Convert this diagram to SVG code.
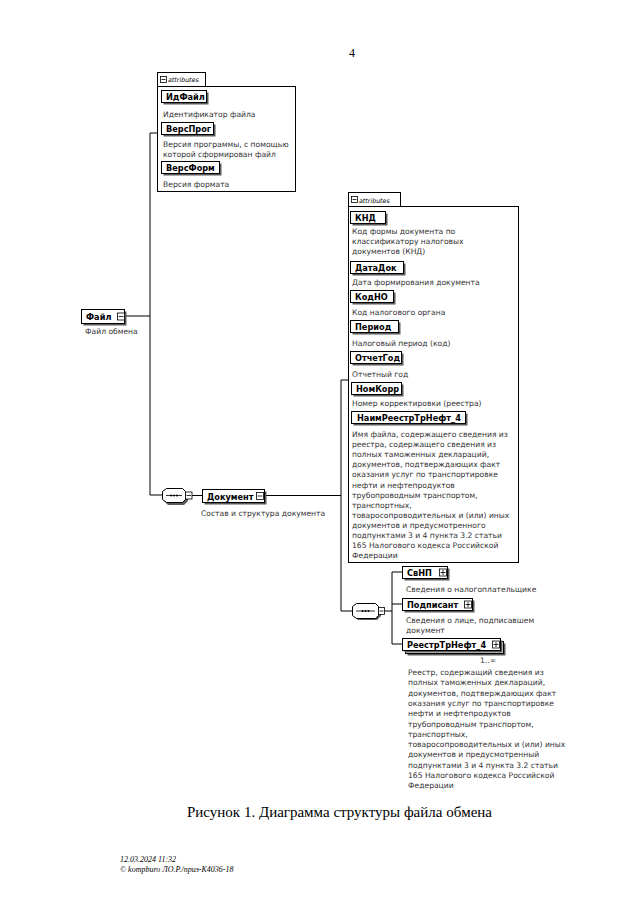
<svg xmlns="http://www.w3.org/2000/svg" width="640" height="915" viewBox="0 0 640 915">
<style>
.bx{fill:#fff;stroke:#000;stroke-width:1}
.sh{fill:#5a5a5a}
.ln{fill:none;stroke:#000;stroke-width:1}
.nm{font-family:"DejaVu Sans",sans-serif;font-weight:bold;font-size:8.2px;fill:#000}
.ds{font-family:"DejaVu Sans",sans-serif;font-size:7.6px;fill:#333}
.tab{font-family:"DejaVu Sans",sans-serif;font-style:italic;font-size:6.3px;fill:#000}
.btn{fill:#fff;stroke:#000;stroke-width:0.8}
.pm{stroke:#000;stroke-width:0.8}
.ser{font-family:"Liberation Serif",serif;fill:#000}
</style>
<rect x="0" y="0" width="640" height="915" fill="#fff"/>

<text class="ser" x="349" y="57" font-size="12">4</text>

<g id="connectors">
  <path class="ln" d="M124,316 H150 M150,133 V495 H162 M150,133 H158"/>
  <path class="ln" d="M192,495.5 H202 M264,495.5 H341 M341,380 V611 H352 M341,380 H348"/>
  <path class="ln" d="M384,611 H392 M392,572 V644 M392,572 H402 M392,604 H402 M392,644 H402"/>
</g>

<g id="attributes-file">
  <rect class="bx" x="157.5" y="72.5" width="48" height="14"/>
  <rect class="btn" x="160.5" y="76.5" width="6" height="6"/>
  <line class="pm" x1="161.5" y1="79.5" x2="165.5" y2="79.5"/>
  <text class="tab" x="168" y="82">attributes</text>
  <rect class="bx" x="157.5" y="86.5" width="138" height="105"/>
</g>
<g id="IdFail">
  <rect class="sh" x="163.5" y="92.5" width="45" height="12"/>
  <rect class="bx" x="161.5" y="90.5" width="45" height="12"/>
  <text class="nm" x="166" y="100">ИдФайл</text>
  <text class="ds" x="163" y="117">Идентификатор файла</text>
</g>
<g id="VersProg">
  <rect class="sh" x="163.5" y="124.5" width="52" height="12"/>
  <rect class="bx" x="161.5" y="122.5" width="52" height="12"/>
  <text class="nm" x="166" y="132">ВерсПрог</text>
  <text class="ds" x="163" y="147">Версия программы, с помощью</text>
  <text class="ds" x="163" y="157">которой сформирован файл</text>
</g>
<g id="VersForm">
  <rect class="sh" x="163.5" y="163.5" width="58" height="12"/>
  <rect class="bx" x="161.5" y="161.5" width="58" height="12"/>
  <text class="nm" x="166" y="171">ВерсФорм</text>
  <text class="ds" x="163" y="187">Версия формата</text>
</g>

<g id="Fail">
  <rect class="sh" x="83.5" y="311.5" width="43" height="14"/>
  <rect class="bx" x="81.5" y="309.5" width="43" height="14"/>
  <text class="nm" x="86" y="320">Файл</text>
  <rect class="btn" x="117.5" y="313" width="7" height="7"/>
  <line class="pm" x1="118.5" y1="316.5" x2="123.5" y2="316.5"/>
  <text class="ds" x="85" y="334">Файл обмена</text>
</g>

<g id="sequence1">
  <path class="sh" d="M168,490 H184 L188,494 V501 L184,505 H168 L164,501 V494 Z"/>
  <path class="bx" d="M166.5,488.5 H182.5 L185.5,491.5 V499.5 L182.5,502.5 H166.5 L162.5,499.5 V491.5 Z"/>
  <line class="pm" x1="166" y1="495.5" x2="182" y2="495.5"/>
  <circle cx="171" cy="495.5" r="1" fill="#000"/>
  <circle cx="174" cy="495.5" r="1" fill="#000"/>
  <circle cx="177" cy="495.5" r="1" fill="#000"/>
  <rect class="btn" x="185.5" y="492" width="6.5" height="7"/>
  <line class="pm" x1="186.5" y1="495.5" x2="191" y2="495.5"/>
</g>

<g id="Dokument">
  <rect class="sh" x="204.5" y="491.5" width="62" height="13"/>
  <rect class="bx" x="202.5" y="489.5" width="62" height="13"/>
  <text class="nm" x="207" y="499.5">Документ</text>
  <rect class="btn" x="256.5" y="492.5" width="7" height="7"/>
  <line class="pm" x1="257.5" y1="496" x2="262.5" y2="496"/>
  <text class="ds" x="201" y="516">Состав и структура документа</text>
</g>

<g id="attributes-document">
  <rect class="bx" x="348.5" y="192.5" width="52" height="14"/>
  <rect class="btn" x="351.5" y="196.5" width="6" height="6"/>
  <line class="pm" x1="352.5" y1="199.5" x2="356.5" y2="199.5"/>
  <text class="tab" x="359" y="202.5">attributes</text>
  <rect class="bx" x="348.5" y="206.5" width="170" height="356"/>
</g>
<g id="KND">
  <rect class="sh" x="352.5" y="213.5" width="35" height="12"/>
  <rect class="bx" x="350.5" y="211.5" width="35" height="12"/>
  <text class="nm" x="355" y="221">КНД</text>
  <text class="ds" x="352" y="234">Код формы документа по</text>
  <text class="ds" x="352" y="244">классификатору налоговых</text>
  <text class="ds" x="352" y="254">документов (КНД)</text>
</g>
<g id="DataDok">
  <rect class="sh" x="352.5" y="263.5" width="53" height="12"/>
  <rect class="bx" x="350.5" y="261.5" width="53" height="12"/>
  <text class="nm" x="355" y="271">ДатаДок</text>
  <text class="ds" x="352" y="285">Дата формирования документа</text>
</g>
<g id="KodNO">
  <rect class="sh" x="352.5" y="292.5" width="43" height="12"/>
  <rect class="bx" x="350.5" y="290.5" width="43" height="12"/>
  <text class="nm" x="355" y="300">КодНО</text>
  <text class="ds" x="352" y="315">Код налогового органа</text>
</g>
<g id="Period">
  <rect class="sh" x="352.5" y="322.5" width="48" height="12"/>
  <rect class="bx" x="350.5" y="320.5" width="48" height="12"/>
  <text class="nm" x="355" y="330">Период</text>
  <text class="ds" x="352" y="346">Налоговый период (код)</text>
</g>
<g id="OtchetGod">
  <rect class="sh" x="352.5" y="353.5" width="51" height="12"/>
  <rect class="bx" x="350.5" y="351.5" width="51" height="12"/>
  <text class="nm" x="355" y="361">ОтчетГод</text>
  <text class="ds" x="352" y="377">Отчетный год</text>
</g>
<g id="NomKorr">
  <rect class="sh" x="353.5" y="384.5" width="50" height="12"/>
  <rect class="bx" x="351.5" y="382.5" width="50" height="12"/>
  <text class="nm" x="356" y="392">НомКорр</text>
  <text class="ds" x="352" y="406">Номер корректировки (реестра)</text>
</g>
<g id="NaimReestrTrNeft_4">
  <rect class="sh" x="353.5" y="413.5" width="114" height="12"/>
  <rect class="bx" x="351.5" y="411.5" width="114" height="12"/>
  <text class="nm" x="357" y="421">НаимРеестрТрНефт_4</text>
  <text class="ds" x="352" y="437">Имя файла, содержащего сведения из</text>
  <text class="ds" x="352" y="447.1">реестра, содержащего сведения из</text>
  <text class="ds" x="352" y="457.2">полных таможенных деклараций,</text>
  <text class="ds" x="352" y="467.3">документов, подтверждающих факт</text>
  <text class="ds" x="352" y="477.4">оказания услуг по транспортировке</text>
  <text class="ds" x="352" y="487.5">нефти и нефтепродуктов</text>
  <text class="ds" x="352" y="497.6">трубопроводным транспортом,</text>
  <text class="ds" x="352" y="507.7">транспортных,</text>
  <text class="ds" x="352" y="517.8">товаросопроводительных и (или) иных</text>
  <text class="ds" x="352" y="527.9">документов и предусмотренного</text>
  <text class="ds" x="352" y="538">подпунктами 3 и 4 пункта 3.2 статьи</text>
  <text class="ds" x="352" y="548.1">165 Налогового кодекса Российской</text>
  <text class="ds" x="352" y="558.2">Федерации</text>
</g>

<g id="sequence2">
  <path class="sh" d="M358,605 H377 L381,609 V616 L377,620 H358 L354,616 V609 Z"/>
  <path class="bx" d="M356.5,603.5 H375.5 L378.5,606.5 V615.5 L375.5,618.5 H356.5 L352.5,615.5 V606.5 Z"/>
  <line class="pm" x1="356" y1="611" x2="375" y2="611"/>
  <circle cx="362.5" cy="611" r="1" fill="#000"/>
  <circle cx="365.5" cy="611" r="1" fill="#000"/>
  <circle cx="368.5" cy="611" r="1" fill="#000"/>
  <rect class="btn" x="378.5" y="607.5" width="6" height="7"/>
  <line class="pm" x1="379.5" y1="611" x2="383.5" y2="611"/>
</g>

<g id="SvNP">
  <rect class="sh" x="404.5" y="568.5" width="45" height="12"/>
  <rect class="bx" x="402.5" y="566.5" width="45" height="12"/>
  <text class="nm" x="407" y="576">СвНП</text>
  <rect class="btn" x="439.5" y="569" width="7" height="7"/>
  <line class="pm" x1="440.5" y1="572.5" x2="445.5" y2="572.5"/>
  <line class="pm" x1="443" y1="570" x2="443" y2="575"/>
  <text class="ds" x="406" y="592">Сведения о налогоплательщике</text>
</g>
<g id="Podpisant">
  <rect class="sh" x="404.5" y="600.5" width="70" height="12"/>
  <rect class="bx" x="402.5" y="598.5" width="70" height="12"/>
  <text class="nm" x="407" y="608">Подписант</text>
  <rect class="btn" x="464.5" y="601" width="7" height="7"/>
  <line class="pm" x1="465.5" y1="604.5" x2="470.5" y2="604.5"/>
  <line class="pm" x1="468" y1="602" x2="468" y2="607"/>
  <text class="ds" x="406" y="623">Сведения о лице, подписавшем</text>
  <text class="ds" x="406" y="633">документ</text>
</g>
<g id="ReestrTrNeft_4">
  <rect class="sh" x="407.5" y="643.5" width="98" height="12"/>
  <rect class="bx" x="405.5" y="641.5" width="98" height="12"/>
  <rect class="sh" x="404.5" y="640.5" width="98" height="12"/>
  <rect class="bx" x="402.5" y="638.5" width="98" height="12"/>
  <text class="nm" x="407" y="648">РеестрТрНефт_4</text>
  <rect class="btn" x="492.5" y="641" width="7" height="7"/>
  <line class="pm" x1="493.5" y1="644.5" x2="498.5" y2="644.5"/>
  <line class="pm" x1="496" y1="642" x2="496" y2="647"/>
  <text class="ds" x="480" y="663" font-size="7">1..∞</text>
  <text class="ds" x="408" y="675">Реестр, содержащий сведения из</text>
  <text class="ds" x="408" y="685.3">полных таможенных деклараций,</text>
  <text class="ds" x="408" y="695.6">документов, подтверждающих факт</text>
  <text class="ds" x="408" y="705.9">оказания услуг по транспортировке</text>
  <text class="ds" x="408" y="716.2">нефти и нефтепродуктов</text>
  <text class="ds" x="408" y="726.5">трубопроводным транспортом,</text>
  <text class="ds" x="408" y="736.8">транспортных,</text>
  <text class="ds" x="408" y="747.1">товаросопроводительных и (или) иных</text>
  <text class="ds" x="408" y="757.4">документов и предусмотренный</text>
  <text class="ds" x="408" y="767.7">подпунктами 3 и 4 пункта 3.2 статьи</text>
  <text class="ds" x="408" y="778">165 Налогового кодекса Российской</text>
  <text class="ds" x="408" y="788.3">Федерации</text>
</g>

<text class="ser" x="187" y="817" font-size="15">Рисунок 1. Диаграмма структуры файла обмена</text>
<text class="ser" x="120" y="862" font-size="8" font-style="italic" fill="#333">12.03.2024 11:32</text>
<text class="ser" x="120" y="872" font-size="8" font-style="italic" fill="#333">© kompburo ЛО.Р./приз-К4036-18</text>
</svg>
